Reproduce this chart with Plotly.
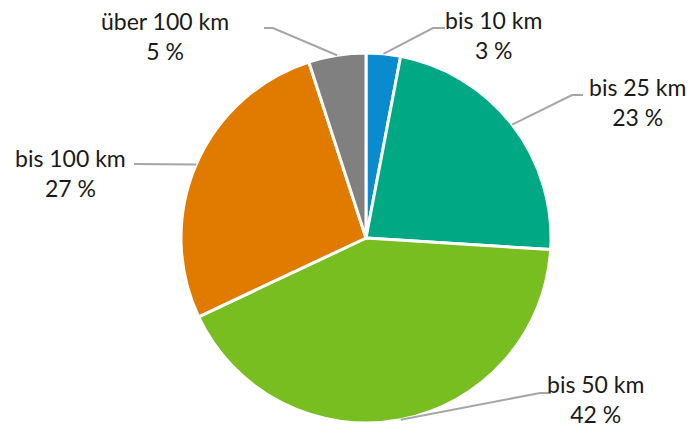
import math
import plotly.graph_objects as go

labels = ["bis 10 km", "bis 25 km", "bis 50 km", "bis 100 km", "über 100 km"]
values = [3, 23, 42, 27, 5]
pct_text = ["3 %", "23 %", "42 %", "27 %", "5 %"]
colors = ["#0a8bd0", "#00a884", "#78be21", "#e07b00", "#808080"]

W, H = 691, 428
CX, CY, R = 366, 238, 185

# label block centres and leader elbows (pixel positions)
label_pos = [(493, 35), (637, 102), (595, 399), (70, 173), (165, 36)]
elbows = [
    [(433, 28), (445, 28)],
    [(572, 95), (583, 95)],
    [(540, 393), (551, 393)],
    [(134, 164)],
    [(273, 28), (264, 28)],
]


def px(x):
    return x / W


def py(y):
    return 1 - y / H


fig = go.Figure(go.Pie(
    labels=labels, values=values, sort=False, direction="clockwise", rotation=0,
    marker=dict(colors=colors, line=dict(color="white", width=3)),
    textinfo="none", hoverinfo="label+percent",
    domain=dict(x=[px(CX - R), px(CX + R)], y=[py(CY + R), py(CY - R)]),
))

total = sum(values)
cum = 0
shapes = []
annotations = []
for i, v in enumerate(values):
    mid = (cum + v / 2) / total * 2 * math.pi
    cum += v
    sx = CX + R * math.sin(mid)
    sy = CY - R * math.cos(mid)
    pts = [(sx, sy)] + elbows[i]
    path = "M " + " L ".join(f"{px(x)},{py(y)}" for x, y in pts)
    shapes.append(dict(type="path", xref="paper", yref="paper", path=path,
                       line=dict(color="#a6a6a6", width=2)))
    lx, ly = label_pos[i]
    annotations.append(dict(
        x=px(lx), y=py(ly), xref="paper", yref="paper", showarrow=False,
        text=f"{labels[i]}<br>{pct_text[i]}", align="center",
        xanchor="center", yanchor="middle",
        font=dict(family="Lato", size=23, color="#1a1a1a"),
    ))

fig.update_layout(
    width=W, height=H, margin=dict(l=0, r=0, t=0, b=0),
    showlegend=False, paper_bgcolor="white",
    shapes=shapes, annotations=annotations,
)

fig.write_html("out.html", config={"displayModeBar": False},
               post_script="document.body.style.margin='0';")
